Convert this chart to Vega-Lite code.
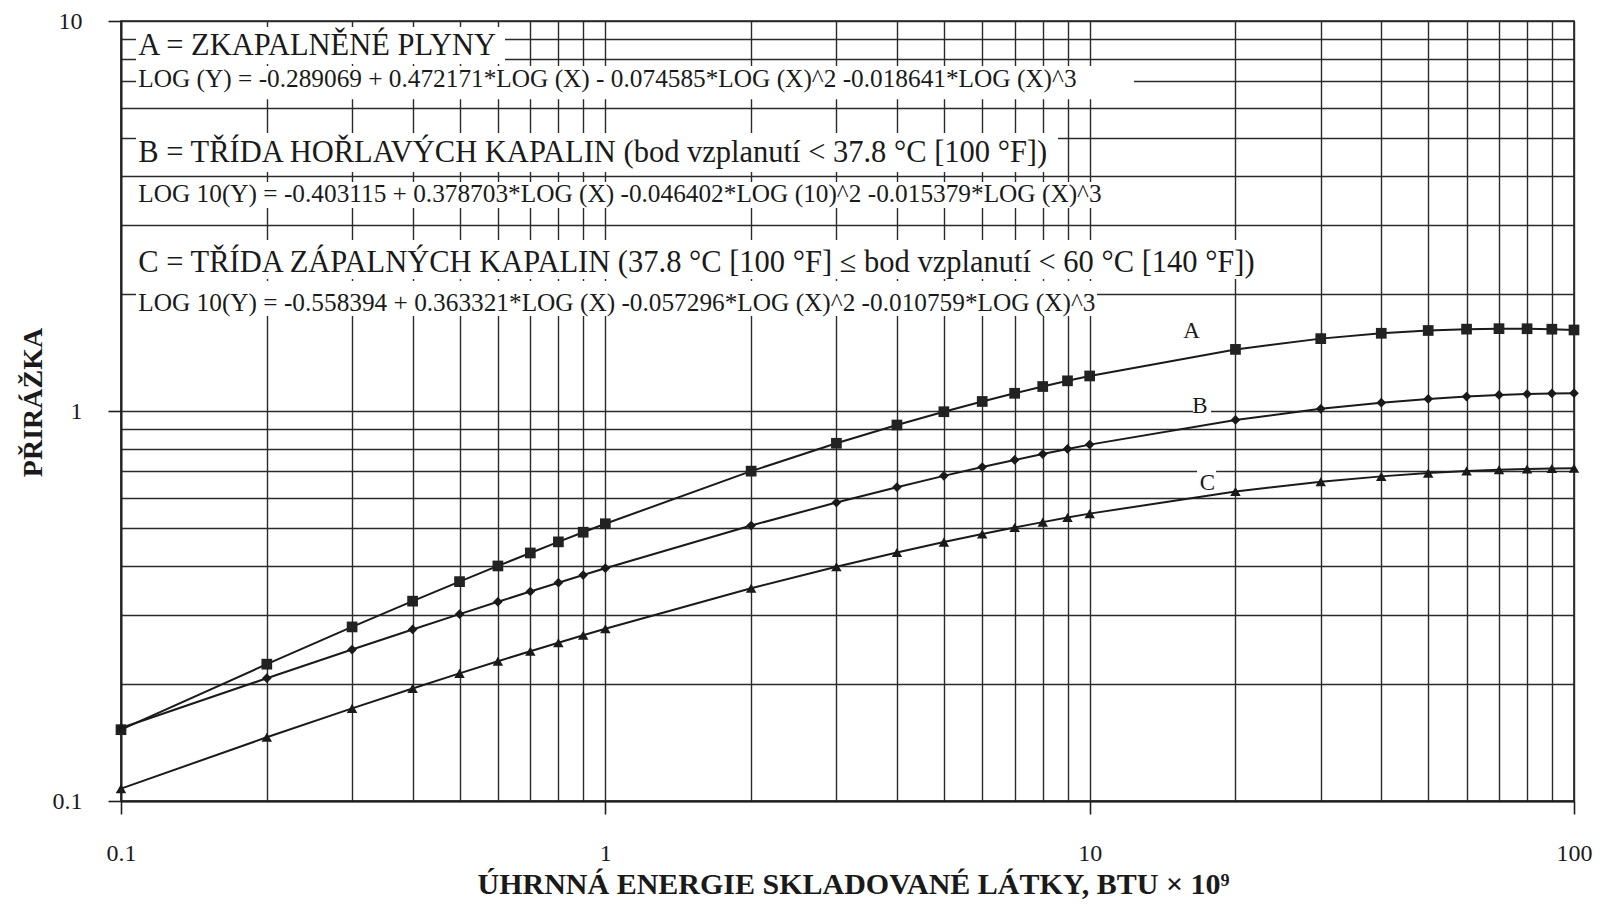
{
  "$schema": "https://vega.github.io/schema/vega-lite/v6.json",
  "width": 1453,
  "height": 780,
  "autosize": {"type": "none"},
  "padding": {"left": 121, "top": 21, "right": 26, "bottom": 104},
  "background": "white",
  "config": {
    "view": {"stroke": "#1e1e1e", "strokeWidth": 1.6},
    "font": "Liberation Serif"
  },
  "datasets": {
    "curves": [
      {"series": "A", "x": 0.1, "y": 0.15234}, {"series": "A", "x": 0.2, "y": 0.2243}, {"series": "A", "x": 0.3, "y": 0.27949},
      {"series": "A", "x": 0.4, "y": 0.32539}, {"series": "A", "x": 0.5, "y": 0.36519}, {"series": "A", "x": 0.6, "y": 0.4006},
      {"series": "A", "x": 0.7, "y": 0.43249}, {"series": "A", "x": 0.8, "y": 0.4618}, {"series": "A", "x": 0.9, "y": 0.48885},
      {"series": "A", "x": 1, "y": 0.51396}, {"series": "A", "x": 2, "y": 0.70114}, {"series": "A", "x": 3, "y": 0.82644},
      {"series": "A", "x": 4, "y": 0.92067}, {"series": "A", "x": 5, "y": 0.99577}, {"series": "A", "x": 6, "y": 1.0578},
      {"series": "A", "x": 7, "y": 1.1103}, {"series": "A", "x": 8, "y": 1.1555}, {"series": "A", "x": 9, "y": 1.195},
      {"series": "A", "x": 10, "y": 1.2299}, {"series": "A", "x": 20, "y": 1.4386}, {"series": "A", "x": 30, "y": 1.5331},
      {"series": "A", "x": 40, "y": 1.5823}, {"series": "A", "x": 50, "y": 1.6085}, {"series": "A", "x": 60, "y": 1.6214},
      {"series": "A", "x": 70, "y": 1.626}, {"series": "A", "x": 80, "y": 1.6252}, {"series": "A", "x": 90, "y": 1.6207},
      {"series": "A", "x": 100, "y": 1.6136},
      {"series": "B", "x": 0.1, "y": 0.15387}, {"series": "B", "x": 0.2, "y": 0.20643}, {"series": "B", "x": 0.3, "y": 0.24456},
      {"series": "B", "x": 0.4, "y": 0.2753}, {"series": "B", "x": 0.5, "y": 0.30137}, {"series": "B", "x": 0.6, "y": 0.32416},
      {"series": "B", "x": 0.7, "y": 0.34449}, {"series": "B", "x": 0.8, "y": 0.36288}, {"series": "B", "x": 0.9, "y": 0.37971},
      {"series": "B", "x": 1, "y": 0.39526}, {"series": "B", "x": 2, "y": 0.50846}, {"series": "B", "x": 3, "y": 0.58252},
      {"series": "B", "x": 4, "y": 0.63784}, {"series": "B", "x": 5, "y": 0.68181}, {"series": "B", "x": 6, "y": 0.71818},
      {"series": "B", "x": 7, "y": 0.74904}, {"series": "B", "x": 8, "y": 0.77575}, {"series": "B", "x": 9, "y": 0.79918},
      {"series": "B", "x": 10, "y": 0.81999}, {"series": "B", "x": 20, "y": 0.9488}, {"series": "B", "x": 30, "y": 1.01267},
      {"series": "B", "x": 40, "y": 1.05018}, {"series": "B", "x": 50, "y": 1.07382}, {"series": "B", "x": 60, "y": 1.08918},
      {"series": "B", "x": 70, "y": 1.09915}, {"series": "B", "x": 80, "y": 1.10544}, {"series": "B", "x": 90, "y": 1.1091},
      {"series": "B", "x": 100, "y": 1.11083},
      {"series": "C", "x": 0.1, "y": 0.10758}, {"series": "C", "x": 0.2, "y": 0.14565}, {"series": "C", "x": 0.3, "y": 0.17279},
      {"series": "C", "x": 0.4, "y": 0.19437}, {"series": "C", "x": 0.5, "y": 0.21249}, {"series": "C", "x": 0.6, "y": 0.22819},
      {"series": "C", "x": 0.7, "y": 0.2421}, {"series": "C", "x": 0.8, "y": 0.25461}, {"series": "C", "x": 0.9, "y": 0.26599},
      {"series": "C", "x": 1, "y": 0.27645}, {"series": "C", "x": 2, "y": 0.35115}, {"series": "C", "x": 3, "y": 0.39879},
      {"series": "C", "x": 4, "y": 0.43375}, {"series": "C", "x": 5, "y": 0.46117}, {"series": "C", "x": 6, "y": 0.48368},
      {"series": "C", "x": 7, "y": 0.50262}, {"series": "C", "x": 8, "y": 0.51888}, {"series": "C", "x": 9, "y": 0.53307},
      {"series": "C", "x": 10, "y": 0.5456}, {"series": "C", "x": 20, "y": 0.62176}, {"series": "C", "x": 30, "y": 0.65856},
      {"series": "C", "x": 40, "y": 0.67979}, {"series": "C", "x": 50, "y": 0.69299}, {"series": "C", "x": 60, "y": 0.70145},
      {"series": "C", "x": 70, "y": 0.70686}, {"series": "C", "x": 80, "y": 0.71018}, {"series": "C", "x": 90, "y": 0.71205},
      {"series": "C", "x": 100, "y": 0.71284}
    ],
    "boxes": [
      {"x": 0.10739, "x2": 0.6207, "y": 9.652, "y2": 7.76},
      {"x": 0.10739, "x2": 12.348, "y": 7.669, "y2": 6.3},
      {"x": 0.10739, "x2": 8.604, "y": 5.163, "y2": 4.101},
      {"x": 0.10739, "x2": 10.705, "y": 3.866, "y2": 3.316},
      {"x": 0.10739, "x2": 22.69, "y": 2.745, "y2": 2.181},
      {"x": 0.10739, "x2": 10.355, "y": 2.154, "y2": 1.752},
      {"x": 16.35, "x2": 17.81, "y": 1.086, "y2": 0.9709},
      {"x": 16.66, "x2": 18.24, "y": 0.7058, "y2": 0.6124}
    ],
    "notes": [
      {"kind": "title", "text": "A = ZKAPALNĚNÉ PLYNY", "x": 0.10857, "y": 8.17},
      {"kind": "eq", "text": "LOG (Y) = -0.289069 + 0.472171*LOG (X) - 0.074585*LOG (X)^2 -0.018641*LOG (X)^3", "x": 0.10857, "y": 6.784},
      {"kind": "title", "text": "B = TŘÍDA HOŘLAVÝCH KAPALIN (bod vzplanutí < 37.8 °C [100 °F])", "x": 0.10857, "y": 4.35},
      {"kind": "eq", "text": "LOG 10(Y) = -0.403115 + 0.378703*LOG (X) -0.046402*LOG (10)^2 -0.015379*LOG (X)^3", "x": 0.10857, "y": 3.441},
      {"kind": "title", "text": "C = TŘÍDA ZÁPALNÝCH KAPALIN (37.8 °C [100 °F] ≤ bod vzplanutí < 60 °C [140 °F])", "x": 0.10857, "y": 2.2725},
      {"kind": "eq", "text": "LOG 10(Y) = -0.558394 + 0.363321*LOG (X) -0.057296*LOG (X)^2 -0.010759*LOG (X)^3", "x": 0.10857, "y": 1.804}
    ],
    "labels": [
      {"series": "A", "x": 16.24, "y": 1.5362},
      {"series": "B", "x": 16.9, "y": 0.99},
      {"series": "C", "x": 17.5, "y": 0.6275}
    ]
  },
  "encoding": {
    "x": {
      "field": "x",
      "type": "quantitative",
      "scale": {"type": "log", "domain": [0.1, 100], "nice": false},
      "axis": {
        "title": "ÚHRNNÁ ENERGIE SKLADOVANÉ LÁTKY, BTU × 10⁹",
        "values": [0.1, 0.2, 0.3, 0.4, 0.5, 0.6, 0.7, 0.8, 0.9, 1, 2, 3, 4, 5, 6, 7, 8, 9, 10, 20, 30, 40, 50, 60, 70, 80, 90, 100],
        "grid": true,
        "gridColor": "#2a2a2a",
        "gridWidth": 1.4,
        "domainColor": "#1e1e1e",
        "domainWidth": 1.8,
        "tickSize": 13,
        "tickColor": "#1e1e1e",
        "tickWidth": 1.6,
        "tickOpacity": {"condition": {"test": "indexof([0.1, 1, 10, 100], datum.value) < 0", "value": 0}, "value": 1},
        "labelExpr": "indexof([0.1, 1, 10, 100], datum.value) >= 0 ? format(datum.value, '~g') : ''",
        "labelFont": "Liberation Serif",
        "labelFontSize": 24,
        "labelColor": "#1a1a1a",
        "labelBaseline": "alphabetic",
        "labelPadding": 46,
        "labelFlush": false,
        "labelOverlap": false,
        "labelAngle": 0,
        "titleFont": "Liberation Serif",
        "titleFontSize": 30,
        "titleFontWeight": "bold",
        "titleColor": "#1a1a1a",
        "titleX": 732,
        "titleY": 92,
        "titleAlign": "center",
        "titleBaseline": "alphabetic"
      }
    },
    "y": {
      "field": "y",
      "type": "quantitative",
      "scale": {"type": "log", "domain": [0.1, 10], "nice": false},
      "axis": {
        "title": "PŘIRÁŽKA",
        "values": [0.1, 0.2, 0.3, 0.4, 0.5, 0.6, 0.7, 0.8, 0.9, 1, 2, 3, 4, 5, 6, 7, 8, 9, 10],
        "grid": true,
        "gridColor": "#2a2a2a",
        "gridWidth": 1.4,
        "domainColor": "#1e1e1e",
        "domainWidth": 1.8,
        "tickSize": 13,
        "tickColor": "#1e1e1e",
        "tickWidth": 1.6,
        "tickOpacity": {"condition": {"test": "indexof([0.1, 1, 10], datum.value) < 0", "value": 0}, "value": 1},
        "labelExpr": "indexof([0.1, 1, 10], datum.value) >= 0 ? format(datum.value, '~g') : ''",
        "labelFont": "Liberation Serif",
        "labelFontSize": 24,
        "labelColor": "#1a1a1a",
        "labelBaseline": "middle",
        "labelPadding": 26,
        "labelFlush": false,
        "labelOverlap": false,
        "titleFont": "Liberation Serif",
        "titleFontSize": 28,
        "titleFontWeight": "bold",
        "titleColor": "#1a1a1a",
        "titleAngle": 270,
        "titleX": -80,
        "titleY": 381,
        "titleAlign": "center",
        "titleBaseline": "alphabetic"
      }
    }
  },
  "layer": [
    {
      "data": {"name": "boxes"},
      "mark": {"type": "rect", "fill": "white", "strokeWidth": 0},
      "encoding": {"x2": {"field": "x2"}, "y2": {"field": "y2"}}
    },
    {
      "data": {"name": "curves"},
      "mark": {"type": "line", "color": "#1a1a1a", "strokeWidth": 2},
      "encoding": {"detail": {"field": "series", "type": "nominal"}}
    },
    {
      "data": {"name": "curves"},
      "transform": [{"filter": "datum.series == 'A'"}],
      "mark": {"type": "point", "shape": "square", "filled": true, "color": "#222222", "opacity": 1, "size": 115}
    },
    {
      "data": {"name": "curves"},
      "transform": [{"filter": "datum.series == 'B'"}],
      "mark": {"type": "point", "shape": "diamond", "filled": true, "color": "#1a1a1a", "opacity": 1, "size": 95}
    },
    {
      "data": {"name": "curves"},
      "transform": [{"filter": "datum.series == 'C'"}],
      "mark": {"type": "point", "shape": "triangle-up", "filled": true, "color": "#1a1a1a", "opacity": 1, "size": 110}
    },
    {
      "data": {"name": "notes"},
      "transform": [{"filter": "datum.kind == 'title'"}],
      "mark": {"type": "text", "align": "left", "baseline": "alphabetic", "font": "Liberation Serif", "fontSize": 30.5, "color": "#1a1a1a"},
      "encoding": {"text": {"field": "text"}}
    },
    {
      "data": {"name": "notes"},
      "transform": [{"filter": "datum.kind == 'eq'"}],
      "mark": {"type": "text", "align": "left", "baseline": "alphabetic", "font": "Liberation Serif", "fontSize": 25.3, "color": "#1a1a1a"},
      "encoding": {"text": {"field": "text"}}
    },
    {
      "data": {"name": "labels"},
      "mark": {"type": "text", "align": "center", "baseline": "alphabetic", "font": "Liberation Serif", "fontSize": 23, "color": "#1a1a1a"},
      "encoding": {"text": {"field": "series"}}
    }
  ]
}
